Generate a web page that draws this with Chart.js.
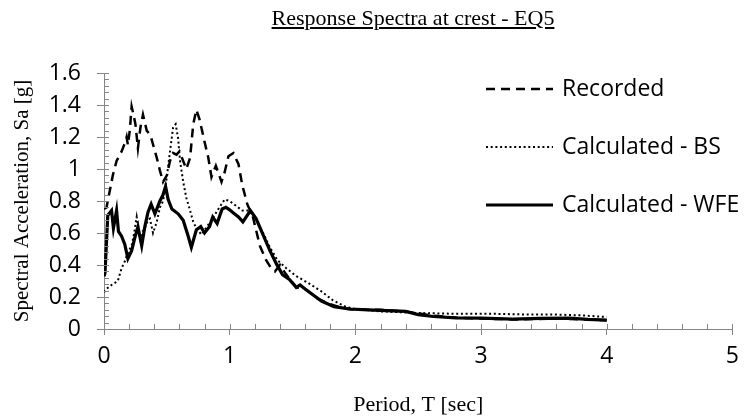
<!DOCTYPE html>
<html>
<head>
<meta charset="utf-8">
<script src="https://cdn.jsdelivr.net/npm/chart.js@4.4.1/dist/chart.umd.min.js"></script>
<style>
  html, body { margin: 0; padding: 0; background: #fff; overflow: hidden; }
  #wrap { position: relative; width: 747px; height: 419px; }
  #titulo {
    position: absolute; top: 5px; left: 413px; transform: translateX(-50%);
    white-space: nowrap; font: 22px "Liberation Serif", "Times New Roman", serif;
    text-decoration: underline; color: #000;
  }
</style>
</head>
<body>
<div id="wrap">
  <canvas id="grafico" width="747" height="419"></canvas>
  <div id="titulo">Response Spectra at crest - EQ5</div>
</div>
<script>
// Recorded
var recT  = [0.00, 0.02, 0.05, 0.07, 0.10, 0.14, 0.17, 0.18, 0.19, 0.205, 0.22, 0.235, 0.25, 0.27, 0.29, 0.31, 0.34, 0.37, 0.42, 0.445, 0.47, 0.50, 0.525, 0.55, 0.577, 0.60, 0.63, 0.655, 0.685, 0.71, 0.735, 0.76, 0.80, 0.83, 0.855, 0.89, 0.935, 0.96, 0.99, 1.03, 1.07, 1.10, 1.14, 1.185, 1.24, 1.29, 1.33, 1.36, 1.40, 1.45, 1.53, 1.60, 1.70, 1.80, 1.90, 2.00, 2.20, 2.40, 2.60, 2.80, 3.00, 3.30, 3.60, 3.80, 4.00];
var recSa = [0.75, 0.76, 0.88, 0.96, 1.05, 1.11, 1.17, 1.20, 1.15, 1.24, 1.39, 1.34, 1.28, 1.13, 1.26, 1.34, 1.24, 1.21, 1.07, 0.99, 0.92, 0.96, 1.05, 1.10, 1.09, 1.11, 1.05, 1.00, 1.07, 1.28, 1.37, 1.31, 1.17, 1.07, 0.95, 1.02, 0.92, 0.98, 1.08, 1.10, 1.03, 0.90, 0.78, 0.70, 0.52, 0.43, 0.38, 0.36, 0.40, 0.34, 0.26, 0.25, 0.19, 0.155, 0.13, 0.12, 0.12, 0.11, 0.085, 0.07, 0.065, 0.06, 0.065, 0.06, 0.055];

// Calculated - BS
var bsT  = [0.00, 0.02, 0.05, 0.09, 0.11, 0.14, 0.17, 0.19, 0.22, 0.24, 0.26, 0.285, 0.30, 0.325, 0.35, 0.365, 0.39, 0.42, 0.445, 0.47, 0.50, 0.525, 0.55, 0.57, 0.59, 0.605, 0.63, 0.655, 0.685, 0.71, 0.735, 0.775, 0.81, 0.855, 0.91, 0.96, 1.00, 1.05, 1.10, 1.15, 1.20, 1.26, 1.32, 1.38, 1.45, 1.53, 1.62, 1.73, 1.82, 1.92, 2.00, 2.20, 2.50, 2.80, 3.10, 3.40, 3.60, 3.80, 4.00];
var bsSa = [0.23, 0.25, 0.27, 0.29, 0.30, 0.38, 0.43, 0.48, 0.52, 0.60, 0.70, 0.57, 0.60, 0.63, 0.68, 0.69, 0.60, 0.67, 0.76, 0.80, 0.95, 1.11, 1.26, 1.28, 1.19, 1.05, 0.92, 0.82, 0.74, 0.67, 0.63, 0.59, 0.63, 0.68, 0.75, 0.81, 0.80, 0.77, 0.74, 0.74, 0.70, 0.61, 0.51, 0.43, 0.38, 0.33, 0.29, 0.235, 0.18, 0.14, 0.125, 0.11, 0.10, 0.095, 0.095, 0.09, 0.09, 0.085, 0.075];

// Calculated - WFE
var wfeT  = [0.00, 0.008, 0.03, 0.06, 0.075, 0.10, 0.115, 0.14, 0.165, 0.19, 0.22, 0.245, 0.27, 0.30, 0.325, 0.35, 0.375, 0.405, 0.445, 0.47, 0.49, 0.51, 0.54, 0.59, 0.63, 0.67, 0.695, 0.735, 0.77, 0.80, 0.84, 0.865, 0.90, 0.94, 0.97, 1.00, 1.03, 1.07, 1.105, 1.165, 1.21, 1.265, 1.32, 1.37, 1.42, 1.475, 1.53, 1.56, 1.60, 1.635, 1.73, 1.83, 1.95, 2.10, 2.25, 2.40, 2.50, 2.62, 2.80, 3.00, 3.25, 3.47, 3.70, 3.85, 4.00];
var wfeSa = [0.33, 0.35, 0.71, 0.74, 0.63, 0.74, 0.61, 0.58, 0.53, 0.44, 0.49, 0.57, 0.64, 0.52, 0.64, 0.73, 0.78, 0.72, 0.80, 0.84, 0.89, 0.81, 0.75, 0.72, 0.68, 0.58, 0.51, 0.62, 0.64, 0.60, 0.64, 0.70, 0.66, 0.75, 0.76, 0.745, 0.725, 0.70, 0.67, 0.74, 0.69, 0.59, 0.49, 0.41, 0.34, 0.31, 0.26, 0.275, 0.25, 0.23, 0.175, 0.14, 0.125, 0.12, 0.115, 0.11, 0.09, 0.078, 0.07, 0.068, 0.062, 0.066, 0.068, 0.06, 0.055];

var seriesNames = ['Recorded', 'Calculated - BS', 'Calculated - WFE'];

var cinza = '#868686';
var fonteSans = '"Open Sans", "Noto Sans", sans-serif';
var fonteSerif = '"Liberation Serif", "Times New Roman", serif';

function pontos(t, sa) {
    return t.map(function (v, i) { return {x: v, y: sa[i]}; });
}

// minor ticks + inner half of the major ticks
var marcas = {
    id: 'marcas',
    afterDraw: function (chart) {
        var ctx = chart.ctx, a = chart.chartArea, x = chart.scales.x, y = chart.scales.y;
        ctx.save();
        ctx.strokeStyle = cinza;
        ctx.lineWidth = 1;
        ctx.beginPath();
        for (var i = 0; i <= 25; i++) {
            var px = Math.round(x.getPixelForValue(i * 0.2)) + 0.5;
            ctx.moveTo(px, a.bottom);
            ctx.lineTo(px, a.bottom - 5);
        }
        for (var j = 0; j <= 40; j++) {
            var py = Math.round(y.getPixelForValue(j * 0.04)) + 0.5;
            ctx.moveTo(a.left, py);
            ctx.lineTo(a.left + 5, py);
        }
        ctx.stroke();
        ctx.restore();
    }
};

// legend drawn inside the plot, right side
var legenda = {
    id: 'legenda',
    afterDraw: function (chart) {
        var ctx = chart.ctx;
        var linhas = [89, 147, 205];
        ctx.save();
        chart.data.datasets.forEach(function (ds, i) {
            var yy = linhas[i];
            ctx.beginPath();
            ctx.strokeStyle = ds.borderColor;
            ctx.lineWidth = ds.borderWidth;
            ctx.setLineDash(ds.borderDash || []);
            ctx.moveTo(486, yy);
            ctx.lineTo(553, yy);
            ctx.stroke();
            ctx.setLineDash([]);
            ctx.fillStyle = '#000';
            ctx.font = '23px ' + fonteSans;
            ctx.textBaseline = 'middle';
            ctx.textAlign = 'left';
            ctx.fillText(ds.label, 562, yy);
        });
        ctx.restore();
    }
};

var ctx = document.getElementById('grafico');
var myChart = new Chart(ctx, {
    type: 'line',
    data: {
        datasets: [
            {
                label: seriesNames[0],
                data: pontos(recT, recSa),
                borderColor: '#000',
                borderWidth: 2.5,
                borderDash: [9, 6],
                pointRadius: 0,
                tension: 0
            },
            {
                label: seriesNames[1],
                data: pontos(bsT, bsSa),
                borderColor: '#000',
                borderWidth: 2,
                borderDash: [2, 2.7],
                pointRadius: 0,
                tension: 0
            },
            {
                label: seriesNames[2],
                data: pontos(wfeT, wfeSa),
                borderColor: '#000',
                borderWidth: 3.2,
                pointRadius: 0,
                tension: 0
            }
        ]
    },
    options: {
        responsive: false,
        animation: false,
        layout: {
            padding: {top: 73, right: 13, left: 0, bottom: 0}
        },
        plugins: {
            legend: {display: false},
            title: {display: false},
            tooltip: {enabled: false}
        },
        scales: {
            x: {
                type: 'linear',
                min: 0,
                max: 5,
                afterFit: function (s) { s.height = 90; },
                border: {display: true, color: cinza, width: 1},
                grid: {drawOnChartArea: false, color: cinza, tickLength: 6},
                ticks: {
                    stepSize: 1,
                    padding: 8,
                    color: '#000',
                    font: {family: fonteSans, size: 23}
                },
                title: {
                    display: true,
                    text: 'Period, T [sec]',
                    color: '#000',
                    padding: {top: 0, bottom: 1},
                    font: {family: fonteSerif, size: 22}
                }
            },
            y: {
                min: 0,
                max: 1.6,
                afterFit: function (s) { s.width = 104; },
                border: {display: true, color: cinza, width: 1},
                grid: {drawOnChartArea: false, color: cinza, tickLength: 7},
                ticks: {
                    stepSize: 0.2,
                    padding: 16,
                    color: '#000',
                    font: {family: fonteSans, size: 23},
                    callback: function (v) { return String(Number(v.toFixed(2))); }
                },
                title: {
                    display: true,
                    text: 'Spectral Acceleration, Sa [g]',
                    color: '#000',
                    padding: {top: 10, bottom: 0},
                    font: {family: fonteSerif, size: 21}
                }
            }
        }
    },
    plugins: [marcas, legenda]
});
</script>
</body>
</html>
